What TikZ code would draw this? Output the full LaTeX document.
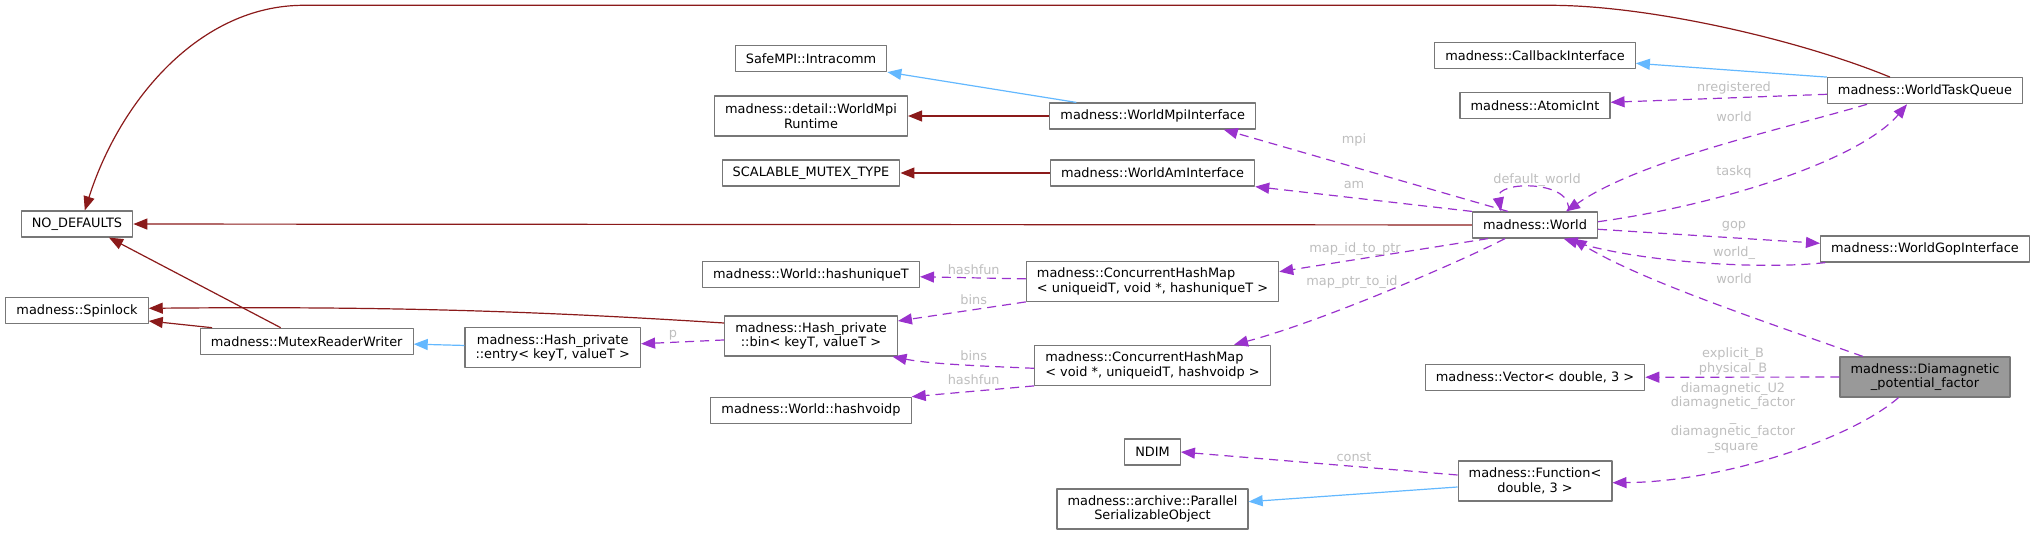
\documentclass[tikz,border=0pt]{standalone}
\usepackage{fontspec}
\setmainfont{DejaVu Sans}
\usetikzlibrary{arrows.meta}
\definecolor{edgered}{HTML}{8B1A1A}
\definecolor{edgeblue}{HTML}{63B8FF}
\definecolor{edgepurple}{HTML}{9A32CD}
\definecolor{lblgray}{HTML}{BEBEBE}
\definecolor{boxgray}{HTML}{777777}
\definecolor{curfill}{HTML}{999999}

\begin{document}
\begin{tikzpicture}[x=0.5pt,y=-0.5pt,font=\fontsize{6.45}{7.3}\selectfont,line join=round,>={Triangle[length=7pt,width=5.5pt]},
		cls/.style={draw=boxgray,fill=white,line width=0.6pt,inner xsep=5.3pt,inner ysep=1pt,minimum height=13pt,align=center},
		two/.style={cls,minimum height=20pt},
		cur/.style={two,fill=curfill},
		inhline/.style={->,draw=edgeblue,line width=0.6pt},
		privline/.style={->,draw=edgered,line width=0.6pt},
		useline/.style={->,draw=edgepurple,line width=0.6pt,dash pattern=on 4.5pt off 3pt},
		lbl/.style={text=lblgray,inner sep=0pt,align=center}]
	\useasboundingbox (0,0) rectangle (2036,535);
	
	\node[cls] (nodef) at (77,224) {NO\_DEFAULTS};
	\node[cls] (spin) at (77,310.5) {madness::Spinlock};
	\node[cls] (mutex) at (306.7,341.3) {madness::MutexReaderWriter};
	\node[two] (entry) at (552.7,347.8) {madness::Hash\_private\\::entry< keyT, valueT >};
	
	\node[cls] (intra) at (811,58.5) {SafeMPI::Intracomm};
	\node[two] (mpirt) at (811,116) {madness::detail::WorldMpi\\Runtime};
	\node[cls] (smutex) at (811,173) {SCALABLE\_MUTEX\_TYPE};
	\node[cls] (huniq) at (811,274.7) {madness::World::hashuniqueT};
	\node[two] (bin) at (811,336) {madness::Hash\_private\\::bin< keyT, valueT >};
	\node[cls] (hvoid) at (811,410.3) {madness::World::hashvoidp};
	
	\node[cls] (mpi) at (1152.7,116) {madness::WorldMpiInterface};
	\node[cls] (am) at (1152.5,173) {madness::WorldAmInterface};
	\node[two,align=left] (chmA) at (1152.5,281.3) {madness::ConcurrentHashMap\\< uniqueidT, void *, hashuniqueT >};
	\node[two,align=left] (chmB) at (1152.5,365.3) {madness::ConcurrentHashMap\\< void *, uniqueidT, hashvoidp >};
	\node[cls] (ndim) at (1152.5,452) {NDIM};
	\node[two] (pser) at (1152.5,509) {madness::archive::Parallel\\SerializableObject};
	
	\node[cls] (cbk) at (1535,55.7) {madness::CallbackInterface};
	\node[cls] (aint) at (1535,105.3) {madness::AtomicInt};
	\node[cls] (world) at (1535,225) {madness::World};
	\node[cls] (vec) at (1535,377.3) {madness::Vector< double, 3 >};
	\node[two] (func) at (1535,481) {madness::Function<\\double, 3 >};
	
	\node[cls] (wtq) at (1925,90.7) {madness::WorldTaskQueue};
	\node[cls] (gop) at (1925,249) {madness::WorldGopInterface};
	\node[cur] (diam) at (1925,377) {madness::Diamagnetic\\\_potential\_factor};
	
	\draw[privline] ([xshift=-17.5pt]wtq.north) .. controls (1800,40) and (1650,5.3) .. (1550,5.3) -- (303.6,5.3) .. controls (200,5.3) and (120,100) .. ([xshift=3.9pt]nodef.north);
	\draw[privline] (world) -- (nodef);
	\draw[privline] ([xshift=-13pt]mutex.north) -- ([xshift=16pt]nodef.south);
	\draw[privline] ([xshift=-47.3pt]mutex.north) -- ([yshift=-5.25pt]spin.east);
	\draw[privline] ([yshift=6.5pt]bin.west) .. controls (550,312) and (400,306) .. ([yshift=1.1pt]spin.east);
	\draw[inhline] (entry) -- (mutex);
	\draw[useline] (bin) -- (entry);
	
	\draw[inhline] ([xshift=-38.2pt]mpi.north) -- (intra.south east);
	\draw[privline] (mpi) -- (mpirt);
	\draw[privline] (am) -- (smutex);
	\draw[useline] (chmA) -- (huniq);
	\draw[useline] (chmA.south west) -- ([yshift=7.5pt]bin.east);
	\draw[useline] ([yshift=-1.5pt]chmB.west) .. controls (980,366) and (930,364) .. ([xshift=-2.7pt]bin.south east);
	\draw[useline] (chmB.south west) -- (hvoid.north east);
	\draw[useline] ([yshift=3pt]func.west) -- (ndim.east);
	\draw[inhline] ([yshift=-3pt]func.west) -- ([yshift=3.65pt]pser.east);
	
	\draw[inhline] (wtq.north west) -- ([yshift=-3.8pt]cbk.east);
	\draw[useline] ([yshift=-1.8pt]wtq.west) -- ([yshift=1.5pt]aint.east);
	\draw[useline] ([xshift=-29pt]wtq.south) .. controls (1780,130) and (1640,160) .. ([xshift=15.5pt]world.north);
	\draw[useline] ([yshift=1.65pt]world.east) .. controls (1720,205) and (1860,160) .. ([xshift=-9pt]wtq.south);
	\draw[useline] ([xshift=16.5pt]world.north) .. controls (1575,180) and (1495,180) .. ([xshift=-17pt]world.north);
	\draw[useline] ([yshift=-2.15pt]world.east) -- ([yshift=2.85pt]gop.west);
	\draw[useline] ([xshift=2.7pt]gop.south west) .. controls (1760,270) and (1640,262) .. ([xshift=14.3pt]world.south);
	\draw[useline] ([xshift=-31.1pt]diam.north) .. controls (1760,320) and (1640,280) .. ([xshift=18.8pt]world.south);
	\draw[useline] ([xshift=-13.55pt]world.north) -- ([xshift=35.5pt]mpi.south);
	\draw[useline] (world.north west) -- (am.south east);
	\draw[useline] ([xshift=-23.5pt]world.south) -- ([yshift=4.8pt]chmA.east);
	\draw[useline] ([xshift=-15pt]world.south) .. controls (1460,262) and (1320,322) .. ([xshift=40.75pt]chmB.north);
	\draw[useline] (diam) -- (vec);
	\draw[useline] ([xshift=-13.25pt]diam.south) .. controls (1850,440) and (1720,482) .. ([yshift=-0.85pt]func.east);
	
	\node[lbl] (lP) at (673,335) {p};
	\node[lbl] (lHashA) at (973.7,270) {hashfun};
	\node[lbl] (lBinsA) at (973.7,299.3) {bins};
	\node[lbl] (lBinsB) at (973.7,355.3) {bins};
	\node[lbl] (lHashB) at (973.7,379.3) {hashfun};
	\node[lbl] (lMpi) at (1354,140) {mpi};
	\node[lbl] (lAm) at (1354,185) {am};
	\node[lbl] (lIdPtr) at (1355,249.3) {map\_id\_to\_ptr};
	\node[lbl] (lPtrId) at (1352,282.3) {map\_ptr\_to\_id};
	\node[lbl] (lConst) at (1354,456.7) {const};
	\node[lbl] (lDef) at (1537,180) {default\_world};
	\node[lbl] (lNreg) at (1734,87.7) {nregistered};
	\node[lbl] (lWtq) at (1734,116.7) {world};
	\node[lbl] (lTaskq) at (1734,171.7) {taskq};
	\node[lbl] (lGop) at (1734,226.7) {gop};
	\node[lbl] (lGopW) at (1734,252.7) {world\_};
	\node[lbl] (lDiamW) at (1734,278.3) {world};
	\node[lbl] (lVec) at (1733,361.7) {explicit\_B\\physical\_B};
	\node[lbl] (lFunc) at (1733,418) {diamagnetic\_U2\\diamagnetic\_factor\\\_\\diamagnetic\_factor\\\_square};
\end{tikzpicture}
\end{document}
